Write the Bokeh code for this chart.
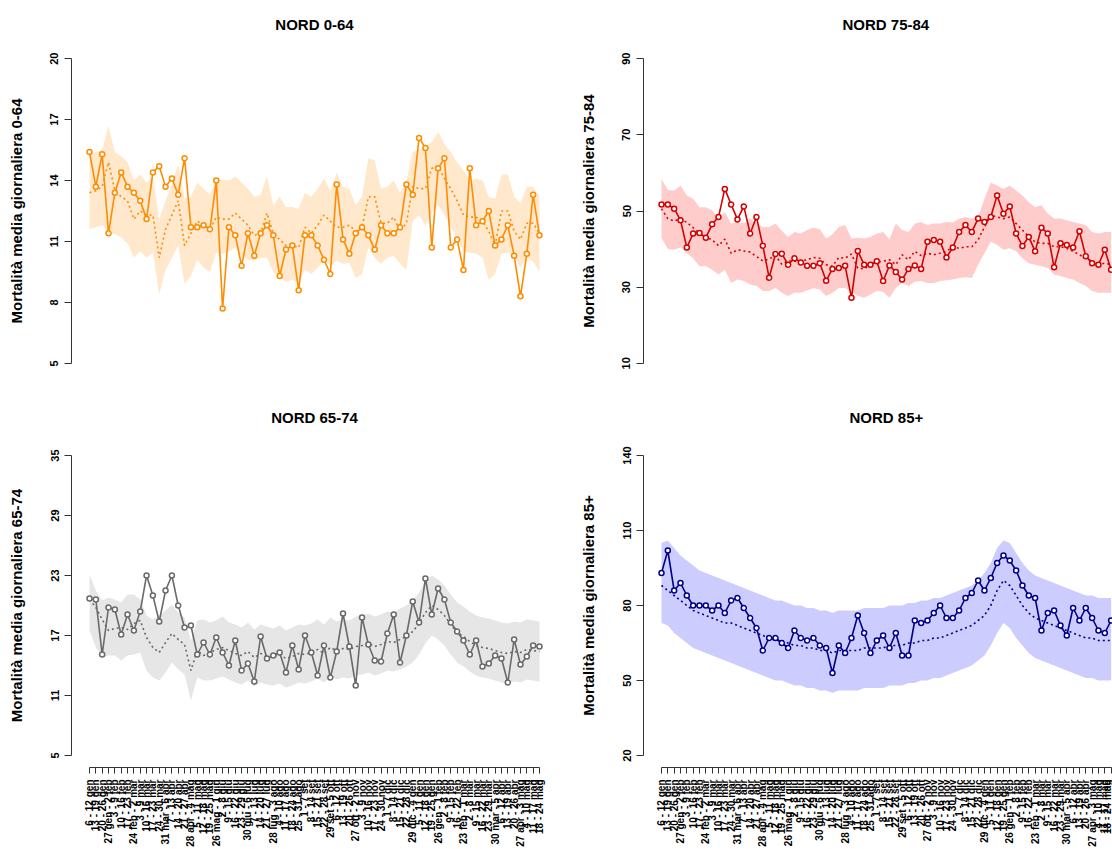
import math
from bokeh.plotting import figure
from bokeh.layouts import column, row
from bokeh.models import Range1d, FixedTicker
from bokeh.embed import file_html
from bokeh.resources import INLINE

FONT = "Liberation Sans"

weeks = ["6 - 12 gen", "13 - 19 gen", "20 - 26 gen", "27 gen - 2 feb", "3 - 9 feb", "10 - 16 feb",
         "17 - 23 feb", "24 feb - 2 mar", "3 - 9 mar", "10 - 16 mar", "17 - 23 mar", "24 - 30 mar",
         "31 mar - 6 apr", "7 - 13 apr", "14 - 20 apr", "21 - 27 apr", "28 apr - 4 mag", "5 - 11 mag",
         "12 - 18 mag", "19 - 25 mag", "26 mag - 1 giu", "2 - 8 giu", "9 - 15 giu", "16 - 22 giu",
         "23 - 29 giu", "30 giu - 6 lug", "7 - 13 lug", "14 - 20 lug", "21 - 27 lug", "28 lug - 3 ago",
         "4 - 10 ago", "11 - 17 ago", "18 - 24 ago", "25 - 31 ago", "1 - 7 set", "8 - 14 set",
         "15 - 21 set", "22 - 28 set", "29 set - 5 ott", "6 - 12 ott", "13 - 19 ott", "20 - 26 ott",
         "27 ott - 2 nov", "3 - 9 nov", "10 - 16 nov", "17 - 23 nov", "24 - 30 nov", "1 - 7 dic",
         "8 - 14 dic", "15 - 21 dic", "22 - 28 dic", "29 dic - 4 gen", "5 - 11 gen", "12 - 18 gen",
         "19 - 25 gen", "26 gen - 1 feb", "2 - 8 feb", "9 - 15 feb", "16 - 22 feb", "23 feb - 1 mar",
         "2 - 8 mar", "9 - 15 mar", "16 - 22 mar", "23 - 29 mar", "30 mar - 5 apr", "6 - 12 apr",
         "13 - 19 apr", "20 - 26 apr", "27 apr - 3 mag", "4 - 10 mag", "11 - 17 mag", "18 - 24 mag"]

# ---- NORD 0-64 ----
obs_0_64 = [15.4, 13.7, 15.3, 11.4, 13.4, 14.4, 13.7, 13.4, 13.0, 12.1, 14.4, 14.7, 13.7, 14.1, 13.3,
            15.1, 11.7, 11.7, 11.8, 11.6, 14.0, 7.7, 11.7, 11.3, 9.8, 11.4, 10.3, 11.4, 11.8, 11.3,
            9.3, 10.6, 10.8, 8.6, 11.3, 11.3, 10.8, 10.1, 9.4, 13.8, 11.1, 10.4, 11.4, 11.7, 11.3,
            10.6, 11.8, 11.4, 11.4, 11.7, 13.8, 13.3, 16.1, 15.6, 10.7, 14.6, 15.1, 10.7, 11.1, 9.6,
            14.6, 11.8, 12.0, 12.5, 10.8, 11.1, 11.8, 10.3, 8.3, 10.4, 13.3, 11.3]
exp_0_64 = [13.4, 13.5, 13.7, 14.9, 13.5, 13.2, 13.0, 12.1, 12.5, 12.3, 12.3, 10.2, 11.6, 12.3, 13.0,
            10.8, 11.4, 12.0, 11.8, 11.6, 12.2, 12.1, 12.1, 12.4, 12.1, 11.8, 11.3, 11.4, 12.4, 11.4,
            11.1, 10.8, 10.8, 10.7, 11.7, 11.4, 11.8, 12.3, 12.0, 11.7, 11.7, 11.8, 11.5, 11.7, 13.2,
            13.2, 11.9, 11.9, 12.2, 11.5, 11.9, 13.7, 13.6, 13.6, 14.6, 14.7, 14.1, 13.6, 13.0, 12.3,
            12.2, 12.2, 12.0, 11.5, 10.8, 12.5, 12.5, 11.5, 11.1, 11.9, 11.9, 11.4]
hi_0_64 = [15.3, 15.4, 15.5, 16.7, 15.4, 15.2, 14.9, 14.0, 14.3, 13.9, 14.2, 12.1, 13.0, 13.8, 14.8,
           13.1, 13.2, 13.9, 13.6, 13.3, 14.1, 14.05, 14.0, 14.2, 13.9, 13.6, 13.2, 13.3, 14.2, 12.8,
           13.2, 12.7, 12.7, 12.6, 13.4, 13.2, 13.6, 14.1, 13.5, 14.4, 13.7, 13.6, 12.8, 13.2, 15.1,
           15.0, 13.6, 13.7, 14.0, 13.4, 14.0, 15.4, 15.5, 15.7, 15.9, 16.4, 15.8, 15.4, 14.9, 14.5,
           14.0, 14.1, 14.0, 13.2, 13.1, 14.3, 14.3, 13.2, 12.9, 13.7, 13.7, 13.2]
lo_0_64 = [11.6, 11.7, 11.8, 11.4, 11.35, 11.2, 10.9, 10.2, 10.5, 10.2, 10.45, 8.4, 9.6, 10.2, 10.8,
           8.9, 9.3, 10.1, 9.7, 9.5, 10.45, 10.4, 10.5, 10.7, 10.3, 10.1, 10.05, 10.2, 10.2, 9.5,
           9.2, 9.0, 9.1, 9.0, 9.6, 9.4, 9.7, 10.05, 9.8, 10.05, 9.9, 9.95, 9.2, 9.4, 10.7,
           10.2, 9.9, 10.2, 10.3, 9.9, 9.6, 12.0, 12.3, 11.8, 12.4, 12.8, 12.3, 11.7, 11.2, 10.5,
           10.45, 10.4, 10.2, 9.1, 9.4, 10.4, 10.45, 10.3, 9.7, 10.2, 10.0, 9.5]

# ---- NORD 75-84 ----
obs_75_84 = [51.7, 51.7, 50.6, 47.6, 40.4, 44.1, 44.2, 43.0, 46.5, 48.4, 55.8, 51.7, 47.8, 51.2, 44.1,
             48.4, 40.9, 32.5, 38.7, 38.8, 35.9, 37.6, 36.5, 35.6, 35.6, 36.3, 31.7, 34.8, 35.0, 35.6,
             27.2, 39.5, 35.9, 35.9, 36.8, 31.6, 35.7, 34.0, 32.0, 34.8, 35.7, 34.8, 41.9, 42.4, 41.9,
             37.8, 40.4, 44.5, 46.3, 44.5, 48.0, 47.1, 48.4, 54.1, 49.3, 51.2, 44.1, 40.8, 43.2, 39.4,
             45.6, 44.1, 35.2, 41.5, 41.1, 40.4, 44.7, 38.1, 36.3, 35.9, 39.8, 34.6]
exp_75_84 = [50.6, 48.0, 47.4, 48.0, 47.0, 45.6, 44.1, 43.2, 42.4, 40.9, 42.6, 38.9, 39.8, 39.5, 39.2,
             38.05, 36.9, 37.4, 38.3, 36.0, 36.9, 36.8, 36.9, 37.2, 37.8, 37.6, 35.9, 35.5, 37.8, 37.6,
             38.7, 35.0, 34.8, 35.9, 36.6, 36.8, 37.2, 35.9, 38.5, 37.2, 39.4, 38.3, 38.9, 38.5, 38.9,
             39.4, 40.6, 40.2, 40.6, 40.6, 42.4, 45.8, 48.9, 48.4, 48.0, 48.4, 46.7, 45.0, 43.2, 41.9,
             41.5, 41.5, 40.6, 40.6, 40.2, 39.4, 38.5, 37.6, 36.8, 35.9, 36.3, 35.9]
hi_75_84 = [58.4, 55.5, 55.4, 56.7, 54.1, 53.2, 51.0, 51.0, 50.2, 48.0, 49.7, 46.7, 47.1, 46.7, 48.0,
            46.7, 45.8, 45.8, 46.7, 44.8, 43.2, 44.5, 44.1, 45.0, 45.6, 45.2, 42.8, 43.9, 45.8, 46.3,
            42.8, 43.0, 42.8, 43.2, 44.1, 44.5, 42.6, 46.7, 45.0, 44.5, 46.7, 47.1, 46.3, 46.7, 46.7,
            47.1, 47.0, 48.0, 48.4, 48.0, 48.4, 53.2, 57.5, 56.7, 55.8, 56.7, 55.4, 54.1, 52.3, 51.0,
            51.5, 49.3, 48.0, 48.0, 47.6, 47.1, 46.7, 46.3, 44.5, 44.1, 44.5, 44.5]
lo_75_84 = [43.0, 40.0, 39.8, 40.4, 38.9, 37.6, 35.5, 35.5, 34.6, 33.3, 34.6, 31.1, 32.0, 31.6, 30.7,
            30.3, 29.0, 29.0, 29.8, 28.5, 27.7, 28.5, 28.5, 29.1, 29.7, 29.4, 27.7, 28.5, 29.8, 29.8,
            28.5, 27.7, 27.2, 28.1, 29.0, 28.8, 27.2, 29.8, 31.1, 30.3, 31.4, 31.6, 31.1, 31.1, 31.6,
            31.8, 32.0, 32.4, 32.6, 32.4, 35.9, 38.9, 41.9, 41.1, 39.8, 40.2, 39.4, 37.6, 36.3, 35.9,
            35.5, 35.0, 33.3, 32.9, 32.4, 32.0, 31.1, 30.3, 29.0, 28.5, 28.5, 28.5]

# ---- NORD 65-74 ----
obs_65_74 = [20.7, 20.6, 15.1, 19.8, 19.6, 17.1, 19.1, 17.5, 19.4, 23.0, 21.0, 18.4, 21.5, 23.0, 20.0,
             17.8, 18.0, 15.1, 16.3, 15.1, 16.8, 15.3, 14.0, 16.5, 13.5, 14.2, 12.4, 16.9, 14.7, 15.0,
             15.3, 13.3, 16.0, 13.6, 17.0, 15.3, 13.0, 16.0, 12.8, 15.4, 19.2, 15.9, 12.0, 18.8, 16.1,
             14.5, 14.4, 17.2, 19.1, 14.3, 17.0, 20.4, 18.3, 22.7, 19.1, 21.7, 20.6, 18.3, 17.4, 16.5,
             15.1, 16.5, 13.9, 14.2, 15.0, 14.7, 12.3, 16.6, 14.1, 14.9, 16.0, 15.9]
exp_65_74 = [20.6, 19.8, 18.6, 17.5, 17.7, 17.8, 17.6, 18.2, 18.5, 16.8, 15.8, 15.3, 16.3, 17.2, 16.6,
             16.1, 13.5, 15.5, 15.0, 15.3, 15.6, 15.8, 15.5, 15.2, 15.0, 15.4, 14.8, 15.2, 15.0, 14.9,
             15.1, 14.7, 14.9, 15.2, 15.1, 15.3, 15.6, 15.2, 15.8, 15.5, 15.7, 15.6, 15.9, 16.0, 16.2,
             15.9, 16.1, 16.4, 16.3, 16.6, 16.9, 17.4, 18.2, 19.3, 20.0, 19.6, 19.0, 18.1, 17.3, 16.9,
             16.4, 16.0, 15.8, 15.7, 15.5, 15.3, 15.2, 15.4, 15.3, 15.6, 15.5, 15.4]
hi_65_74 = [23.1, 21.5, 20.5, 20.8, 20.6, 20.3, 21.1, 21.1, 20.6, 19.0, 18.6, 19.0, 19.5, 20.1, 19.3,
            18.8, 16.5, 18.5, 18.6, 18.3, 18.5, 18.9, 18.3, 18.1, 17.8, 18.3, 17.6, 18.1, 17.9, 17.7,
            18.0, 17.5, 17.8, 18.1, 18.0, 18.2, 18.6, 18.1, 18.8, 18.4, 18.6, 18.5, 18.9, 19.0, 19.2,
            18.9, 19.1, 19.4, 19.3, 19.7, 20.0, 20.5, 21.3, 22.4, 23.0, 22.6, 22.0, 21.1, 20.3, 19.9,
            19.4, 19.0, 18.8, 18.7, 18.5, 18.3, 18.2, 18.4, 18.3, 18.6, 18.5, 18.4]
lo_65_74 = [17.5, 15.8, 14.8, 15.0, 15.0, 14.5, 15.0, 15.1, 15.3, 13.5, 12.8, 12.5, 13.3, 14.3, 13.6,
            13.1, 10.5, 12.8, 12.5, 12.5, 12.7, 12.9, 12.6, 12.3, 12.1, 12.5, 11.9, 12.3, 12.1, 12.0,
            12.2, 11.8, 12.0, 12.3, 12.2, 12.4, 12.7, 12.3, 12.9, 12.6, 12.8, 12.7, 13.0, 13.1, 13.3,
            13.0, 13.2, 13.5, 13.4, 13.6, 13.9, 14.3, 15.1, 16.2, 17.0, 16.6, 16.0, 15.1, 14.3, 13.9,
            13.4, 13.0, 12.8, 12.7, 12.5, 12.3, 12.2, 12.4, 12.3, 12.6, 12.5, 12.4]

# ---- NORD 85+ ----
obs_85 = [93, 102, 86, 89, 84, 80, 80, 80, 78, 80, 77, 82, 83, 79, 75, 71, 62, 67, 67, 65,
          63, 70, 67, 66, 67, 64, 63, 53, 64, 61, 67, 76, 69, 61, 66, 68, 63, 69, 60, 60,
          74, 73, 74, 77, 80, 75, 75, 78, 83, 85, 90, 86, 91, 97, 100, 98, 94, 88, 84, 83,
          70, 77, 78, 72, 68, 79, 74, 79, 75, 70, 69, 74]
exp_85 = [88, 86, 84, 82, 80, 78, 77, 76, 75, 74, 73, 73, 72, 71, 70, 69, 68, 67, 66, 66,
          65, 64, 64, 63, 63, 62, 62, 61, 62, 62, 62, 62, 63, 63, 63, 63, 64, 64, 64, 65,
          65, 66, 66, 67, 67, 68, 69, 70, 71, 72, 74, 76, 80, 86, 90, 88, 84, 80, 77, 75,
          74, 73, 72, 71, 70, 69, 68, 67, 67, 66, 66, 66]
hi_85 = [105, 106, 103, 100, 98, 96, 94, 93, 92, 91, 90, 89, 88, 87, 86, 85, 84, 83, 82, 82,
         81, 80, 80, 79, 79, 78, 78, 77, 78, 78, 78, 78, 79, 79, 79, 79, 80, 80, 80, 81,
         81, 82, 82, 83, 83, 84, 85, 86, 87, 88, 90, 93, 97, 103, 106, 105, 101, 97, 94, 92,
         91, 90, 89, 88, 87, 86, 85, 84, 84, 83, 83, 83]
lo_85 = [73, 72, 69, 67, 65, 63, 62, 61, 60, 59, 58, 57, 56, 55, 54, 53, 52, 51, 50, 50,
         49, 48, 48, 47, 47, 46, 46, 45, 46, 46, 46, 46, 47, 47, 47, 47, 48, 48, 48, 49,
         49, 50, 50, 51, 51, 52, 53, 54, 55, 56, 58, 60, 64, 69, 73, 71, 67, 64, 61, 59,
         58, 57, 56, 55, 54, 53, 52, 51, 51, 50, 50, 50]

ticks_0_64 = [5, 8, 11, 14, 17, 20]
ticks_75_84 = [10, 30, 50, 70, 90]
ticks_65_74 = [5, 11, 17, 23, 29, 35]
ticks_85 = [20, 50, 80, 110, 140]


def panel(title, ylabel, ticks, obs, exp, lo, hi, color, band, right, bottom, title_offset=0):
    x = list(range(1, len(obs) + 1))
    ymin, ymax = ticks[0], ticks[-1]
    pad = 0.04 * (ymax - ymin)
    if bottom:
        height, btop, bbot, stand = 460, 52, 82, 35
    else:
        height, btop, bbot, stand = 389, 45, 14, 27
    if right:
        width, bl, br, xend = 541, 72, 0, 72.22
    else:
        width, bl, br, xend = 571, 71, 14, 74.84
    p = figure(width=width, height=height, output_backend="svg", toolbar_location=None,
               x_range=Range1d(-1.84, xend), y_range=Range1d(ymin - pad, ymax + pad),
               min_border_left=bl, min_border_right=br, min_border_top=btop, min_border_bottom=bbot)
    p.outline_line_color = None
    p.xgrid.visible = False
    p.ygrid.visible = False
    p.background_fill_color = "white"
    p.border_fill_color = "white"

    p.title.text = title
    p.title.text_font = FONT
    p.title.text_font_style = "bold"
    p.title.text_font_size = "15px"
    p.title.text_color = "black"
    p.title.standoff = stand
    if right:
        p.title.align = "left"
        p.title.offset = title_offset
    else:
        p.title.align = "center"

    p.varea(x=x, y1=lo, y2=hi, fill_color=band, fill_alpha=0.2)
    p.line(x, exp, line_color=color, line_width=1.6, line_dash="2 3")
    p.line(x, obs, line_color=color, line_width=1.6)
    p.scatter(x, obs, size=5, fill_color="white", line_color=color, line_width=1.5)

    ya = p.yaxis[0]
    ya.ticker = FixedTicker(ticks=ticks)
    ya.bounds = (ymin, ymax)
    ya.major_label_orientation = "vertical"
    ya.major_label_text_font = FONT
    ya.major_label_text_font_style = "bold"
    ya.major_label_text_font_size = "11px"
    ya.major_label_text_color = "black"
    ya.major_tick_out = 7
    ya.major_tick_in = 0
    ya.major_label_standoff = 6
    ya.minor_tick_line_color = None
    ya.axis_line_color = "#333333"
    ya.major_tick_line_color = "#333333"
    ya.axis_label = ylabel
    ya.axis_label_text_font = FONT
    ya.axis_label_text_font_style = "bold"
    ya.axis_label_text_font_size = "15px"
    ya.axis_label_text_color = "black"
    ya.axis_label_standoff = 23

    xa = p.xaxis[0]
    if bottom:
        xa.ticker = FixedTicker(ticks=x)
        xa.major_label_overrides = {i + 1: w for i, w in enumerate(weeks)}
        xa.bounds = (1, len(obs))
        xa.major_label_orientation = math.pi / 2
        xa.major_label_text_font = FONT
        xa.major_label_text_font_style = "bold"
        xa.major_label_text_font_size = "10px"
        xa.major_label_text_color = "black"
        xa.major_tick_out = 6
        xa.major_tick_in = 0
        xa.major_label_standoff = 6
        xa.minor_tick_line_color = None
        xa.axis_line_color = "#333333"
        xa.major_tick_line_color = "#333333"
    else:
        xa.visible = False
    return p


p1 = panel("NORD 0-64", "Mortalità media giornaliera 0-64", ticks_0_64,
           obs_0_64, exp_0_64, lo_0_64, hi_0_64, "#FF8C00", "#FF8C00", False, False)
p2 = panel("NORD 75-84", "Mortalità media giornaliera 75-84", ticks_75_84,
           obs_75_84, exp_75_84, lo_75_84, hi_75_84, "#D40000", "#FF0000", True, False, 199)
p3 = panel("NORD 65-74", "Mortalità media giornaliera 65-74", ticks_65_74,
           obs_65_74, exp_65_74, lo_65_74, hi_65_74, "#6A6A6A", "#808080", False, True)
p4 = panel("NORD 85+", "Mortalità media giornaliera 85+", ticks_85,
           obs_85, exp_85, lo_85, hi_85, "#00008B", "#0000FF", True, True, 206)

p = column(row(p1, p2), row(p3, p4))
open("out.html", "w").write(file_html(p, INLINE))
